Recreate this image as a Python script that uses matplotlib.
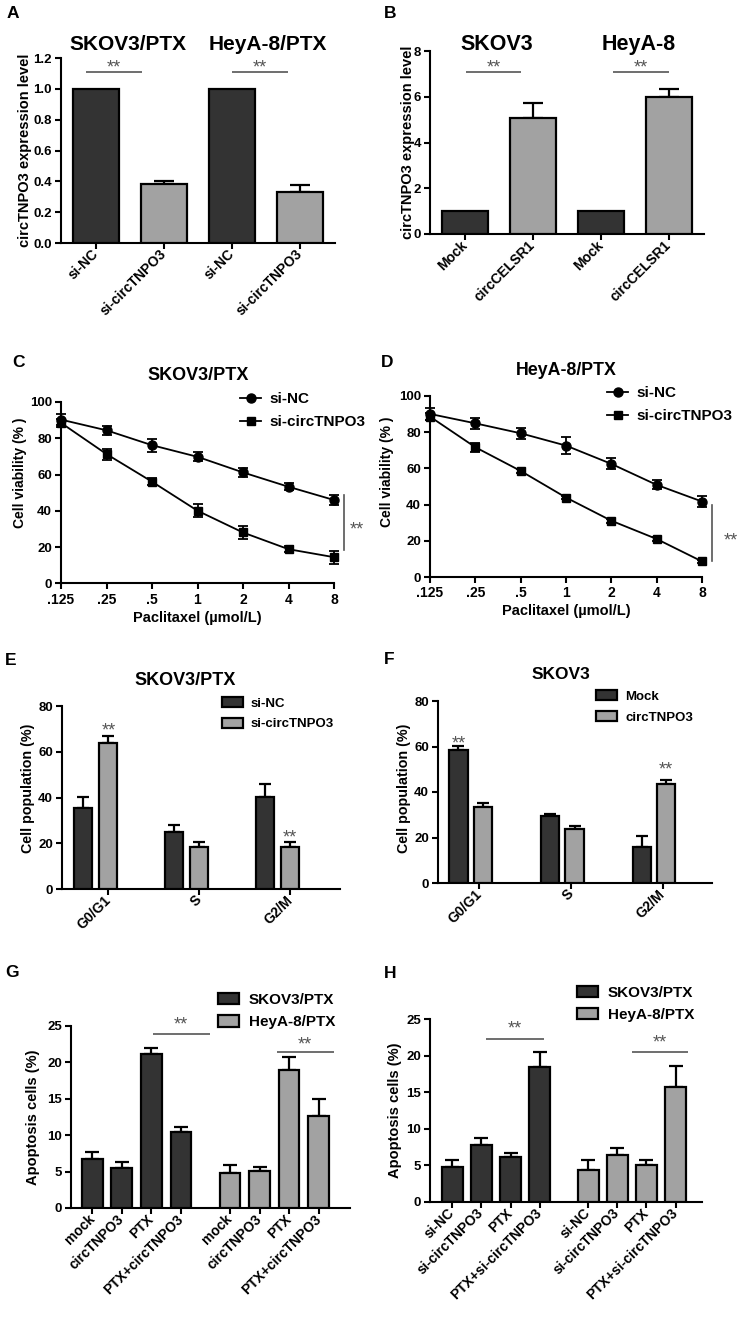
import matplotlib
matplotlib.use('Agg')
import matplotlib.pyplot as plt
import matplotlib.transforms as mtransforms
from matplotlib.lines import Line2D
from matplotlib.patches import Patch

plt.rcParams['font.family'] = ['Liberation Sans', 'DejaVu Sans']
plt.rcParams['font.weight'] = 'bold'
plt.rcParams['axes.labelweight'] = 'bold'

# ---------------- data ----------------
A_labels = ['si-NC', 'si-circTNPO3', 'si-NC', 'si-circTNPO3']
A_values = [1.0, 0.38, 1.0, 0.33]
A_err = [0.0, 0.02, 0.0, 0.045]
A_groups = ['SKOV3/PTX', 'HeyA-8/PTX']

B_labels = ['Mock', 'circCELSR1', 'Mock', 'circCELSR1']
B_values = [1.0, 5.05, 1.0, 6.0]
B_err = [0.0, 0.68, 0.0, 0.36]
B_groups = ['SKOV3', 'HeyA-8']

doses = ['.125', '.25', '.5', '1', '2', '4', '8']
C_sinc = [90.3, 84.4, 76.2, 69.8, 61.2, 53.3, 46.0]
C_sinc_err = [3.0, 2.5, 3.5, 2.5, 2.5, 2.0, 2.5]
C_sicirc = [88.5, 71.3, 56.1, 40.1, 28.1, 18.9, 14.5]
C_sicirc_err = [2.0, 3.0, 2.0, 3.5, 3.5, 1.5, 3.5]

D_sinc = [90.1, 84.9, 79.4, 72.6, 62.5, 50.9, 41.7]
D_sinc_err = [3.5, 3.0, 3.0, 4.5, 3.0, 2.5, 3.0]
D_sicirc = [88.6, 71.7, 58.6, 43.9, 31.1, 21.0, 8.6]
D_sicirc_err = [2.0, 2.5, 1.0, 1.0, 1.0, 1.0, 1.0]

phases = ['G0/G1', 'S', 'G2/M']
E_sinc = [35.3, 25.1, 40.1]
E_sinc_err = [4.9, 3.0, 5.8]
E_sicirc = [63.7, 18.5, 18.5]
E_sicirc_err = [3.2, 1.9, 1.9]

F_mock = [58.5, 29.5, 15.8]
F_mock_err = [1.8, 0.8, 4.7]
F_circ = [33.6, 23.7, 43.4]
F_circ_err = [1.5, 1.5, 1.8]

G_labels = ['mock', 'circTNPO3', 'PTX', 'PTX+circTNPO3']
G_skov = [6.76, 5.48, 21.1, 10.4]
G_skov_err = [0.92, 0.87, 0.9, 0.7]
G_heya = [4.8, 5.12, 19.0, 12.7]
G_heya_err = [1.14, 0.5, 1.7, 2.3]

H_labels = ['si-NC', 'si-circTNPO3', 'PTX', 'PTX+si-circTNPO3']
H_skov = [4.78, 7.74, 6.15, 18.44]
H_skov_err = [0.91, 0.96, 0.54, 2.01]
H_heya = [4.42, 6.42, 5.10, 15.71]
H_heya_err = [1.36, 0.96, 0.59, 2.91]

# ---------------- layout helpers ----------------
W, H = 738, 1317
fig = plt.figure(figsize=(W / 100, H / 100), dpi=100)
DARK = '#333333'
LIGHT = '#a2a2a2'
SIG = '#555555'
LW = 1.5
TICK = 9.5
ROT = 10


def fx(x):
    return x / W


def fy(y):
    return 1 - y / H


def add_ax(x0, x1, ytop, y0):
    ax = fig.add_axes([fx(x0), fy(y0), (x1 - x0) / W, (y0 - ytop) / H])
    for s in ['top', 'right']:
        ax.spines[s].set_visible(False)
    for s in ['left', 'bottom']:
        ax.spines[s].set_linewidth(LW)
    ax.tick_params(direction='out', length=4.5, width=LW, labelsize=TICK, pad=2)
    ax.patch.set_alpha(0)
    return ax


def ylab(ax, text, xpx, yfrac=0.5, size=10):
    ax.set_ylabel(text, fontsize=size, fontweight='bold', va='center')
    ax.yaxis.set_label_coords(fx(xpx), yfrac,
                              transform=mtransforms.blended_transform_factory(fig.transFigure, ax.transAxes))


def panel_label(t, x, ybase):
    fig.text(fx(x), fy(ybase), t, fontsize=12.5, fontweight='bold', ha='left', va='baseline')


def title(t, cx, ybase, size):
    fig.text(fx(cx), fy(ybase), t, fontsize=size, fontweight='bold', ha='center', va='baseline')


def stars(ax, x, yc, size=13):
    ax.annotate('**', xy=(x, yc), xytext=(0, -0.58 * size), textcoords='offset points',
                ha='center', va='baseline', fontsize=size, fontweight='normal', color=SIG,
                annotation_clip=False)


def sigline(ax, x0, x1, y):
    ax.plot([x0, x1], [y, y], color=SIG, lw=1.2, clip_on=False, solid_capstyle='butt')


def bars(ax, pos, vals, errs, colors, width, capsize):
    ax.bar(pos, vals, width=width, color=colors, edgecolor='black', linewidth=1.6, zorder=3)
    px = [p for p, e in zip(pos, errs) if e > 0]
    pv = [v for v, e in zip(vals, errs) if e > 0]
    pe = [e for e in errs if e > 0]
    ax.errorbar(px, pv, yerr=[[0] * len(pe), pe], fmt='none', ecolor='black',
                elinewidth=1.6, capsize=capsize, capthick=1.6, zorder=2)


def rot_labels(ax, labels, size=ROT):
    ax.set_xticklabels(labels, rotation=45, ha='right', va='center', rotation_mode='anchor',
                       fontsize=size, fontweight='bold')


def legend(handles, labels, x, ytop, size, **kw):
    opts = dict(loc='upper left', bbox_to_anchor=(fx(x), fy(ytop)), frameon=False,
                borderpad=0, borderaxespad=0, prop={'weight': 'bold', 'size': size})
    opts.update(kw)
    fig.legend(handles, labels, **opts)


# ---------------- Panel A ----------------
ax = add_ax(61, 335, 58, 243)
posA = [0, 1, 2, 3]
bars(ax, posA, A_values, A_err, [DARK, LIGHT, DARK, LIGHT], 0.68, 7)
ax.set_xlim(-0.515, 3.515)
ax.set_ylim(0, 1.2)
ax.set_yticks([0, 0.2, 0.4, 0.6, 0.8, 1.0, 1.2])
ax.set_yticklabels(['0.0', '0.2', '0.4', '0.6', '0.8', '1.0', '1.2'])
ax.set_xticks(posA)
rot_labels(ax, A_labels)
ylab(ax, 'circTNPO3 expression level', 25, size=10.5)
sigline(ax, -0.15, 0.68, 1.11)
sigline(ax, 2.0, 2.82, 1.11)
stars(ax, 0.265, 1.174)
stars(ax, 2.41, 1.174)
panel_label('A', 7, 18)
title(A_groups[0], 128, 50, 15)
title(A_groups[1], 268, 50, 15)

# ---------------- Panel B ----------------
ax = add_ax(430, 704, 51, 234)
bars(ax, posA, B_values, B_err, [DARK, LIGHT, DARK, LIGHT], 0.68, 7)
ax.set_xlim(-0.515, 3.515)
ax.set_ylim(0, 8)
ax.set_yticks([0, 2, 4, 6, 8])
ax.set_xticks(posA)
rot_labels(ax, B_labels)
ylab(ax, 'circTNPO3 expression level', 408, size=10.5)
sigline(ax, 0.01, 0.83, 7.09)
sigline(ax, 2.18, 3.0, 7.09)
stars(ax, 0.42, 7.53)
stars(ax, 2.59, 7.53)
panel_label('B', 384, 18)
title(B_groups[0], 497, 50, 15.5)
title(B_groups[1], 639, 50, 15.5)


# ---------------- Panels C, D ----------------
def line_panel(x0, x1, ytop, y0, s1, e1, s2, e2, ylabx, ylaby, sigx, sigy0, sigy1, starx, stary):
    ax = add_ax(x0, x1, ytop, y0)
    xs = list(range(len(doses)))
    ax.errorbar(xs, s1, yerr=e1, color='black', marker='o', ms=6.5, lw=1.3, elinewidth=1.3,
                capsize=3.5, capthick=1.3, clip_on=False, zorder=3)
    ax.errorbar(xs, s2, yerr=e2, color='black', marker='s', ms=6, lw=1.3, elinewidth=1.3,
                capsize=3.5, capthick=1.3, clip_on=False, zorder=3)
    ax.set_xlim(0, 6)
    ax.set_ylim(0, 100)
    ax.set_yticks([0, 20, 40, 60, 80, 100])
    ax.set_xticks(xs)
    ax.set_xticklabels(doses, fontsize=10, fontweight='bold')
    ax.set_xlabel('Paclitaxel (\u00b5mol/L)', fontsize=10.5, fontweight='bold', labelpad=3)
    ylab(ax, 'Cell viability (% )', ylabx, ylaby, size=10)
    ax.plot([sigx, sigx], [sigy0, sigy1], color=SIG, lw=1.2, clip_on=False)
    ax.annotate('**', xy=(starx, stary), xytext=(0, -0.58 * 13), textcoords='offset points',
                ha='center', va='baseline', fontsize=13, fontweight='normal', color=SIG,
                annotation_clip=False)
    return ax


handles = [Line2D([], [], color='black', marker='o', ms=6.5, lw=1.3),
           Line2D([], [], color='black', marker='s', ms=6, lw=1.3)]

ax = line_panel(61, 334, 402, 583.5, C_sinc, C_sinc_err, C_sicirc, C_sicirc_err, 20, 0.61,
                6.22, 48.7, 18.2, 6.5, 33)
legend(handles, ['si-NC', 'si-circTNPO3'], 240, 392, 11,
       handlelength=1.4, handletextpad=0.5, labelspacing=0.62)
panel_label('C', 12, 367)
title('SKOV3/PTX', 198, 380, 13)

ax = line_panel(430, 702, 396, 577, D_sinc, D_sinc_err, D_sicirc, D_sicirc_err, 387, 0.58,
                6.22, 39.9, 8.6, 6.64, 23.3)
legend(handles, ['si-NC', 'si-circTNPO3'], 607, 386, 11,
       handlelength=1.4, handletextpad=0.5, labelspacing=0.62)
panel_label('D', 381, 367)
title('HeyA-8/PTX', 566, 375, 12.8)


# ---------------- Panels E, F ----------------
def phase_panel(x0, x1, ytop, y0, xlim, off1, off2, s1, e1, s2, e2, ylabx, ylaby):
    ax = add_ax(x0, x1, ytop, y0)
    xs = list(range(len(phases)))
    bars(ax, [x + off1 for x in xs], s1, e1, DARK, 0.2, 4.5)
    bars(ax, [x + off2 for x in xs], s2, e2, LIGHT, 0.2, 4.5)
    ax.set_xlim(*xlim)
    ax.set_ylim(0, 80)
    ax.set_yticks([0, 20, 40, 60, 80])
    ax.set_xticks(xs)
    rot_labels(ax, phases)
    ylab(ax, 'Cell population (%)', ylabx, ylaby, size=10.3)
    return ax


ph = [Patch(facecolor=DARK, edgecolor='black', linewidth=1.6),
      Patch(facecolor=LIGHT, edgecolor='black', linewidth=1.6)]

ax = phase_panel(62, 340, 706, 889, (-0.51, 2.55), -0.275, 0.0, E_sinc, E_sinc_err,
                 E_sicirc, E_sicirc_err, 28, 0.55)
stars(ax, 0.0, 71.7)
stars(ax, 2.0, 25.1)
legend(ph, ['si-NC', 'si-circTNPO3'], 222, 697, 9.5,
       handlelength=1.6, handleheight=0.8, handletextpad=0.6, labelspacing=0.6)
panel_label('E', 5, 665)
title('SKOV3/PTX', 185, 685, 13)

ax = phase_panel(438, 712, 701, 883, (-0.45, 2.54), -0.227, 0.041, F_mock, F_mock_err,
                 F_circ, F_circ_err, 404, 0.52)
stars(ax, -0.227, 63.6)
stars(ax, 2.041, 52.4)
legend(ph, ['Mock', 'circTNPO3'], 596, 690, 9.5,
       handlelength=1.6, handleheight=0.8, handletextpad=0.6, labelspacing=0.65)
panel_label('F', 384, 664)
title('SKOV3', 561, 679, 12.5)


# ---------------- Panels G, H ----------------
def apop_panel(x0, x1, ytop, y0, xlim, gap, labels, s1, e1, s2, e2, ylabx, width):
    ax = add_ax(x0, x1, ytop, y0)
    p1 = [0, 1, 2, 3]
    p2 = [gap + i for i in range(4)]
    bars(ax, p1, s1, e1, DARK, width, 5)
    bars(ax, p2, s2, e2, LIGHT, width, 5)
    ax.set_xlim(*xlim)
    ax.set_ylim(0, 25)
    ax.set_yticks([0, 5, 10, 15, 20, 25])
    ax.set_xticks(p1 + p2)
    rot_labels(ax, labels + labels)
    ylab(ax, 'Apoptosis cells (%)', ylabx, 0.5, size=10.5)
    return ax


ax = apop_panel(71, 350, 1026, 1208, (-0.72, 8.72), 4.66, G_labels, G_skov, G_skov_err,
                G_heya, G_heya_err, 33, 0.70)
sigline(ax, 2.05, 3.98, 23.86)
stars(ax, 3.0, 25.9)
sigline(ax, 6.24, 8.17, 21.4)
stars(ax, 7.2, 23.2)
legend(ph, ['SKOV3/PTX', 'HeyA-8/PTX'], 218, 993, 11,
       handlelength=1.4, handleheight=0.75, handletextpad=0.6, labelspacing=0.55)
panel_label('G', 5, 977)

ax = apop_panel(430, 702, 1019, 1202, (-0.76, 8.55), 4.65, H_labels, H_skov, H_skov_err,
                H_heya, H_heya_err, 395, 0.72)
sigline(ax, 1.17, 3.13, 22.3)
stars(ax, 2.15, 24.4)
sigline(ax, 6.14, 8.06, 20.45)
stars(ax, 7.1, 22.6)
legend(ph, ['SKOV3/PTX', 'HeyA-8/PTX'], 577, 986, 11,
       handlelength=1.4, handleheight=0.75, handletextpad=0.6, labelspacing=0.5)
panel_label('H', 384, 978)

fig.savefig('out.png', dpi=100)
